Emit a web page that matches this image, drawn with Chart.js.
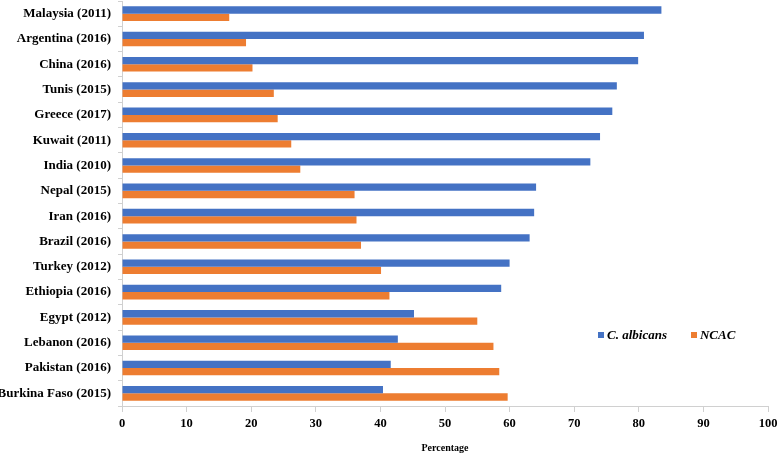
<!DOCTYPE html>
<html>
<head>
<meta charset="utf-8">
<script src="https://cdn.jsdelivr.net/npm/chart.js@4/dist/chart.umd.min.js"></script>
<style>
  html, body { margin: 0; padding: 0; background: #fff; }
  #wrap { position: relative; width: 778px; height: 458px; }
  #legend { position: absolute; left: 598px; top: 327px; font: italic bold 13px "Liberation Serif", serif; color: #000; white-space: nowrap; }
  #legend span.sw { display: inline-block; width: 6px; height: 6px; margin-right: 3px; vertical-align: 1px; }
  #legend span.item { margin-right: 24px; }
</style>
</head>
<body>
<div id="wrap">
  <canvas id="c" width="778" height="458"></canvas>
  <div id="legend"></div>
</div>
<script>
const categories = ["Malaysia (2011)", "Argentina (2016)", "China (2016)", "Tunis (2015)", "Greece (2017)", "Kuwait (2011)", "India (2010)", "Nepal (2015)", "Iran (2016)", "Brazil (2016)", "Turkey (2012)", "Ethiopia (2016)", "Egypt (2012)", "Lebanon (2016)", "Pakistan (2016)", "Burkina Faso (2015)"];
const albicans = [83.5, 80.8, 79.9, 76.6, 75.9, 74.0, 72.5, 64.1, 63.8, 63.1, 60.0, 58.7, 45.2, 42.7, 41.6, 40.4];
const ncac = [16.6, 19.2, 20.2, 23.5, 24.1, 26.2, 27.6, 36.0, 36.3, 37.0, 40.1, 41.4, 55.0, 57.5, 58.4, 59.7];
const seriesNames = ["C. albicans", "NCAC"];
const xTicks = [0, 10, 20, 30, 40, 50, 60, 70, 80, 90, 100];
const colors = ["#4472C4", "#ED7D31"];

const FONT = '"Liberation Serif", "Times New Roman", serif';

new Chart(document.getElementById('c'), {
  type: 'bar',
  data: {
    labels: categories,
    datasets: [
      { label: seriesNames[0], data: albicans, backgroundColor: colors[0], categoryPercentage: 0.58, barPercentage: 1.0 },
      { label: seriesNames[1], data: ncac, backgroundColor: colors[1], categoryPercentage: 0.58, barPercentage: 1.0 }
    ]
  },
  options: {
    indexAxis: 'y',
    responsive: false,
    animation: false,
    devicePixelRatio: 1,
    layout: { padding: { left: 0, right: 10, top: 1, bottom: 4 } },
    plugins: { legend: { display: false }, tooltip: { enabled: false } },
    scales: {
      x: {
        min: 0, max: 100,
        afterBuildTicks: (s) => { s.ticks = xTicks.map(v => ({ value: v })); },
        afterFit: (s) => { s.height = 48; s.paddingLeft = 0; s.paddingRight = 0; },
        grid: { drawOnChartArea: false, drawTicks: true, tickLength: 6, color: '#d0d0d0' },
        border: { color: '#d0d0d0' },
        ticks: { color: '#000', font: { family: FONT, weight: 'bold', size: 12.5 }, padding: 4, maxRotation: 0 },
        title: { display: true, text: 'Percentage', color: '#000', font: { family: FONT, weight: 'bold', size: 10 }, padding: { top: 12, bottom: 0 } }
      },
      y: {
        afterFit: (s) => { s.width = 122; s.paddingTop = 0; s.paddingBottom = 0; },
        grid: { drawOnChartArea: false, drawTicks: true, tickLength: 4, color: '#d0d0d0', offset: true },
        border: { color: '#d0d0d0' },
        ticks: { color: '#000', font: { family: FONT, weight: 'bold', size: 13 }, padding: 7 }
      }
    }
  }
});

const lg = document.getElementById('legend');
seriesNames.forEach((n, i) => {
  const it = document.createElement('span');
  it.className = 'item';
  const sw = document.createElement('span');
  sw.className = 'sw';
  sw.style.background = colors[i];
  it.appendChild(sw);
  it.appendChild(document.createTextNode(n));
  lg.appendChild(it);
});
</script>
</body>
</html>
